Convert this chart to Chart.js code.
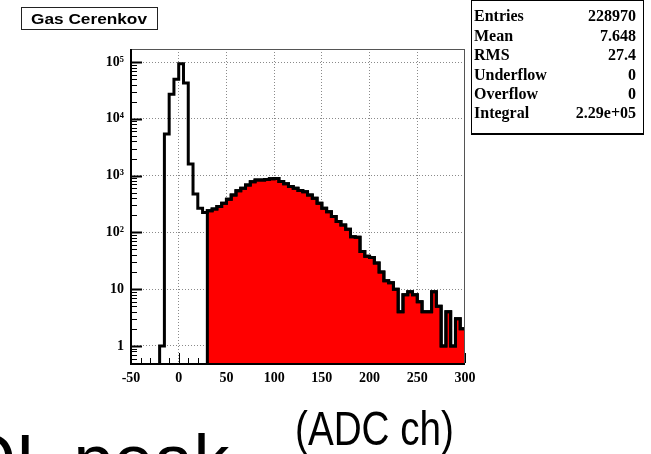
<!DOCTYPE html>
<html><head><meta charset="utf-8">
<script src="https://cdn.jsdelivr.net/npm/chart.js@4/dist/chart.umd.min.js"></script>
<style>
html,body{margin:0;padding:0;background:#fff;overflow:hidden;}
#wrap{position:relative;width:651px;height:454px;overflow:hidden;}
#c{position:absolute;left:0;top:0;}
.t{position:absolute;white-space:nowrap;display:inline-block;transform-origin:0 0;color:#000;}
#titlebox{position:absolute;left:21px;top:7px;width:135px;height:21px;border:1px solid #222;}
#statbox{position:absolute;left:471px;top:0px;width:171px;height:132px;border:1px solid #000;border-bottom-width:2px;}
</style></head>
<body>
<div id="wrap">
<canvas id="c" width="651" height="454"></canvas>
<div id="titlebox"></div>
<div id="statbox"></div>
</div>
<script>
// ---- data ----
const binEdges = [-50,-45,-40,-35,-30,-25,-20,-15,-10,-5,0,5,10,15,20,25,30,35,40,45,50,55,60,65,70,75,80,85,90,95,100,105,110,115,120,125,130,135,140,145,150,155,160,165,170,175,180,185,190,195,200,205,210,215,220,225,230,235,240,245,250,255,260,265,270,275,280,285,290,295,300];
const counts = [0,0,0,0,0,0,1,5400,27000,50000,93000,43000,1600,475,265,225,
  240,258,285,325,385,455,540,600,685,780,835,840,850,880,890,790,720,640,600,545,520,455,400,325,266,231,190,155,135,113,84,82,46,38,36,29,20,14,13,10,4,8,9,8,6,4,4,9,5,1,4,1,3,2];
const fillFrom = 30;
const xTickValues = [-50,0,50,100,150,200,250,300];
const yTickValues = [1,10,100,1000,10000,100000];
const yTickLabels = ['1','10','10\u00b2','10\u00b3','10\u2074','10\u2075'];
const titleText = 'Gas Cerenkov';
const statsLabels = ['Entries','Mean','RMS','Underflow','Overflow','Integral'];
const statsValues = ['228970','7.648','27.4','0','0','2.29e+05'];
const unitText = '(ADC ch)';
const peakText = 'QL peak';

// ---- build datasets ----
const EMPTY = 1e-3; // stand-in for empty bins on the log axis
const outline = binEdges.map((e, i) => ({x: e, y: (i < counts.length ? counts[i] : counts[counts.length - 1]) || EMPTY}));
const redPart = [{x: fillFrom, y: EMPTY}].concat(outline.filter(p => p.x >= fillFrom));

const tickFont = {family: "'Liberation Serif', 'Times New Roman', serif", weight: 'bold', size: 14};

const axisPlugin = {
  id: 'rootAxes',
  beforeDatasetsDraw(chart) {
    const {ctx, chartArea: a, scales: {x, y}} = chart;
    ctx.save();
    ctx.strokeStyle = '#000';
    // y minor / major ticks (inside)
    for (let d = 0.1; d <= 1e5; d *= 10) {
      for (let k = 1; k <= 9; k++) {
        const v = k * d;
        if (v < y.min || v > y.max) continue;
        const py = Math.round(y.getPixelForValue(v)) + 0.5;
        ctx.lineWidth = k === 1 ? 2 : 1;
        ctx.beginPath(); ctx.moveTo(a.left, py); ctx.lineTo(a.left + (k === 1 ? 11 : 6), py); ctx.stroke();
      }
    }
    // x ticks (inside)
    for (let v = -50; v <= 300; v += 10) {
      const px = Math.round(x.getPixelForValue(v)) + 0.5;
      const major = v % 50 === 0;
      ctx.lineWidth = 1;
      ctx.beginPath(); ctx.moveTo(px, a.bottom); ctx.lineTo(px, a.bottom - (major ? 10 : 5)); ctx.stroke();
    }
    ctx.restore();
  },
  afterDatasetsDraw(chart) {
    const {ctx, chartArea: a} = chart;
    ctx.save();
    ctx.strokeStyle = '#555'; ctx.lineWidth = 1;
    ctx.beginPath(); ctx.moveTo(a.left, a.top + 0.5); ctx.lineTo(a.right, a.top + 0.5);
    ctx.moveTo(a.right - 0.5, a.top); ctx.lineTo(a.right - 0.5, a.bottom); ctx.stroke();
    ctx.strokeStyle = '#000'; ctx.lineWidth = 2;
    ctx.beginPath(); ctx.moveTo(a.left, a.top); ctx.lineTo(a.left, a.bottom + 1);
    ctx.lineTo(a.right, a.bottom + 1); ctx.stroke();
    ctx.restore();
  }
};

new Chart(document.getElementById('c'), {
  type: 'line',
  data: {
    datasets: [
      {label: 'all', data: outline, borderColor: '#000', borderWidth: 3, stepped: true, pointRadius: 0, fill: false, order: 0},
      {label: 'signal', data: redPart, borderColor: '#000', borderWidth: 3, backgroundColor: '#ff0000', stepped: true, pointRadius: 0, fill: 'start', order: 1}
    ]
  },
  options: {
    responsive: false, animation: false, devicePixelRatio: 1,
    layout: {padding: {left: 0, top: 49, right: 186, bottom: 0}},
    plugins: {legend: {display: false}, tooltip: {enabled: false}},
    scales: {
      x: {
        type: 'linear', min: -50, max: 300,
        afterBuildTicks: s => { s.ticks = xTickValues.map(v => ({value: v})); },
        afterFit: s => { s.height = 91; },
        ticks: {font: tickFont, color: '#000', padding: 7, maxRotation: 0, autoSkip: false, callback: v => String(v)},
        grid: {drawTicks: false, lineWidth: 1, color: c => (c.tick && (c.tick.value === -50 || c.tick.value === 300)) ? 'rgba(0,0,0,0)' : '#8a8a8a'},
        border: {display: false, dash: [1, 2]}
      },
      y: {
        type: 'logarithmic', min: 0.5, max: 1.7e5,
        afterBuildTicks: s => { s.ticks = yTickValues.map(v => ({value: v})); },
        afterFit: s => { s.width = 131; },
        ticks: {font: tickFont, color: '#000', padding: 7, autoSkip: false,
          callback: v => { const i = yTickValues.indexOf(v); return i >= 0 ? yTickLabels[i] : ''; }},
        grid: {drawTicks: false, lineWidth: 1, color: '#8a8a8a'},
        border: {display: false, dash: [1, 2]}
      }
    }
  },
  plugins: [axisPlugin]
});

// ---- text overlays (real HTML text) ----
const wrap = document.getElementById('wrap');
function placeText(text, opts) {
  const el = document.createElement('span');
  el.className = 't';
  el.textContent = text;
  el.style.fontFamily = opts.family;
  el.style.fontWeight = opts.weight || 'normal';
  el.style.fontSize = opts.size + 'px';
  el.style.lineHeight = opts.size + 'px';
  wrap.appendChild(el);
  const w = el.getBoundingClientRect().width;
  const sx = opts.width ? opts.width / w : 1;
  if (sx !== 1) el.style.transform = 'scaleX(' + sx + ')';
  const asc = opts.asc, desc = opts.desc;
  const top = opts.baseline - ((opts.size - (asc + desc) * opts.size) / 2 + asc * opts.size);
  el.style.top = top + 'px';
  let left = opts.x;
  if (opts.align === 'right') left = opts.x - w * sx;
  else if (opts.align === 'center') left = opts.x - w * sx / 2;
  el.style.left = left + 'px';
  return el;
}
const SANS = "'Liberation Sans', Arial, sans-serif";
const SERIF = "'Liberation Serif', 'Times New Roman', serif";
placeText(titleText, {family: SANS, weight: 'bold', size: 15, x: 89, align: 'center', baseline: 24, width: 116, asc: 0.905, desc: 0.212});
statsLabels.forEach((s, i) => {
  placeText(s, {family: SERIF, weight: 'bold', size: 16, x: 474, baseline: 21.7 + 19.4 * i, asc: 0.891, desc: 0.216});
  placeText(statsValues[i], {family: SERIF, weight: 'bold', size: 16, x: 636, align: 'right', baseline: 21.7 + 19.4 * i, asc: 0.891, desc: 0.216});
});
placeText(unitText, {family: SANS, size: 49, x: 295, baseline: 445, width: 159, asc: 0.905, desc: 0.212});
placeText(peakText, {family: SANS, size: 72, x: -40, baseline: 485, asc: 0.905, desc: 0.212});
</script>
</body></html>
